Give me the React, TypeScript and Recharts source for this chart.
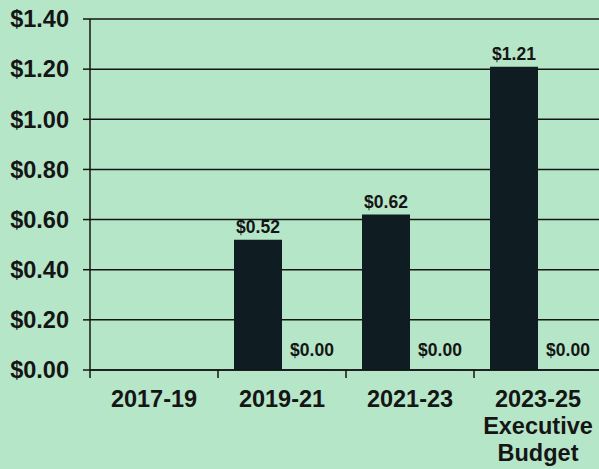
import { BarChart, Bar, XAxis, YAxis, CartesianGrid, LabelList } from "recharts";

const categories = ["2017-19", "2019-21", "2021-23", "2023-25\nExecutive\nBudget"];
const seriesA = [null, 0.52, 0.62, 1.21];
const seriesB = [null, 0, 0, 0];
const yTicks = [0, 0.2, 0.4, 0.6, 0.8, 1.0, 1.2, 1.4];

const data = categories.map((c, i) => ({ name: c, a: seriesA[i], b: seriesB[i] }));

const FONT = '"Liberation Sans", Arial, sans-serif';
const BG = "#b6e6c8";
const INK = "#151515";

const money = (v: any) => (v == null ? "" : `$${Number(v).toFixed(2)}`);

function CategoryTick(props: any) {
  const { x, y, payload } = props;
  const lines = String(payload.value).split("\n");
  return (
    <g>
      <line x1={x - 64} y1={y - 8} x2={x - 64} y2={y} stroke={INK} strokeWidth={1.5} />
      <text
        x={x}
        y={y + 29}
        textAnchor="middle"
        fill={INK}
        fontSize={23.5}
        fontWeight="bold"
        fontFamily={FONT}
      >
        {lines.map((l, i) => (
          <tspan key={i} x={x} dy={i === 0 ? 0 : 27}>
            {l}
          </tspan>
        ))}
      </text>
    </g>
  );
}

export default function App() {
  return (
    <div
      style={{
        position: "fixed",
        top: 0,
        left: 0,
        width: 599,
        height: 469,
        overflow: "hidden",
        background: BG,
      }}
    >
      <BarChart
        width={610}
        height={469}
        data={data}
        margin={{ top: 19, right: 8, left: 0, bottom: 0 }}
        barCategoryGap={16}
        barGap={0}
      >
        <CartesianGrid vertical={false} stroke={INK} strokeWidth={1.5} />
        <XAxis
          dataKey="name"
          height={99}
          tickLine={false}
          axisLine={{ stroke: INK, strokeWidth: 1.5 }}
          tick={<CategoryTick />}
          interval={0}
        />
        <YAxis
          width={90}
          domain={[0, 1.4]}
          ticks={yTicks}
          tickFormatter={money}
          tickSize={7}
          tickMargin={14}
          tickLine={{ stroke: INK, strokeWidth: 1.5 }}
          axisLine={{ stroke: INK, strokeWidth: 1.5 }}
          tick={{ fill: INK, fontSize: 23.5, fontWeight: "bold", fontFamily: FONT }}
        />
        <Bar dataKey="a" fill="#0f1d22" isAnimationActive={false}>
          <LabelList
            dataKey="a"
            position="top"
            offset={7}
            formatter={money}
            style={{ fill: INK, fontSize: 17.5, fontWeight: "bold", fontFamily: FONT }}
          />
        </Bar>
        <Bar dataKey="b" fill="#0f1d22" minPointSize={0.5} isAnimationActive={false}>
          <LabelList
            dataKey="b"
            position="top"
            offset={14}
            dx={6}
            formatter={money}
            style={{ fill: INK, fontSize: 17.5, fontWeight: "bold", fontFamily: FONT }}
          />
        </Bar>
      </BarChart>
    </div>
  );
}
